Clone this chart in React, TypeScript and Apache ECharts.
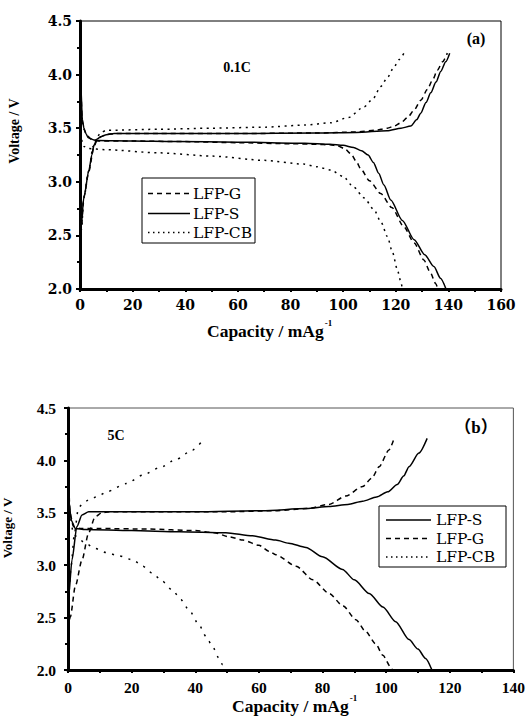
import { useEffect, useRef } from "react";
import * as echarts from "echarts";

// ---------- Panel (a): 0.1C ----------
const capTicksA = { min: 0, max: 160, interval: 20 };
const voltTicks = { min: 2.0, max: 4.5, interval: 0.5 };

const gChargeA = [[0,2.35],[0.4,2.55],[1.5,2.86],[3.4,3.1],[5.3,3.33],[6.5,3.39],[8,3.42],[10,3.44],[13,3.45],[30,3.45],[60,3.45],[90,3.455],[105,3.465],[112,3.48],[116.8,3.5],[119.5,3.52],[121.9,3.55],[124.5,3.6],[127,3.67],[129.5,3.76],[132,3.86],[134,3.95],[135.8,4.04],[137.8,4.12],[139.6,4.2]];
const sChargeA = [[0,2.4],[0.3,2.55],[1.5,2.86],[3.4,3.11],[4.5,3.25],[5.3,3.34],[6.5,3.4],[7.9,3.42],[10,3.44],[13,3.45],[30,3.45],[60,3.45],[90,3.455],[105,3.46],[116.7,3.477],[122,3.5],[125.7,3.52],[128,3.58],[129.5,3.64],[131.5,3.74],[133.3,3.83],[135.3,3.93],[137.1,4.03],[139,4.12],[140.5,4.2]];
const cbChargeA = [[0,2.3],[0.5,2.55],[1.5,2.85],[3.3,3.1],[5,3.33],[6.5,3.42],[8,3.46],[10,3.48],[30,3.49],[50,3.5],[70.7,3.51],[85.5,3.53],[95.3,3.55],[102,3.6],[108,3.7],[111.5,3.78],[114.3,3.89],[117,3.98],[119.3,4.07],[121.3,4.14],[123.1,4.2]];

const gDischargeA = [[0,4.0],[0.3,3.85],[0.9,3.56],[1.5,3.49],[2.5,3.44],[4,3.4],[7,3.38],[20,3.38],[40,3.375],[60,3.365],[80,3.355],[90,3.35],[95,3.345],[98,3.335],[100.5,3.31],[103,3.26],[105,3.19],[106.7,3.12],[110,3.01],[114.3,2.89],[118.5,2.76],[123.1,2.58],[127,2.43],[130.7,2.27],[133,2.16],[135.2,2.05],[136,2.0]];
const sDischargeA = [[0,4.05],[0.3,3.9],[0.9,3.58],[1.5,3.5],[2.2,3.45],[3.2,3.41],[5.3,3.39],[7,3.385],[20,3.38],[36,3.375],[60,3.37],[85.5,3.36],[95,3.35],[100,3.34],[104,3.32],[107,3.29],[109.5,3.25],[111.5,3.18],[113.5,3.08],[115.5,2.97],[118.1,2.83],[122.5,2.64],[127,2.46],[131,2.32],[134.5,2.21],[137,2.1],[139.1,2.0]];
const cbDischargeA = [[0,3.45],[0.6,3.39],[1.5,3.33],[3,3.31],[9.5,3.3],[30,3.27],[50,3.24],[70,3.2],[85,3.165],[90,3.14],[95.3,3.11],[100,3.05],[104,2.95],[108,2.85],[111.7,2.74],[114.5,2.62],[116.8,2.49],[118.8,2.34],[120.6,2.18],[121.8,2.08],[122.5,2.0]];

// ---------- Panel (b): 5C ----------
const capTicksB = { min: 0, max: 140, interval: 20 };

const sChargeB = [[0,2.55],[0.2,2.7],[1.25,3.05],[2.8,3.37],[4.4,3.48],[6.5,3.51],[20,3.51],[40,3.51],[61,3.52],[75,3.54],[82,3.56],[88,3.58],[92.6,3.61],[97,3.65],[100.5,3.7],[103.5,3.77],[105.5,3.85],[107.2,3.94],[110.3,4.07],[112.9,4.21]];
const gChargeB = [[0,2.4],[0.7,2.5],[2.3,2.8],[4.4,3.05],[6.5,3.31],[8.5,3.46],[10.6,3.5],[13,3.51],[30,3.51],[50,3.51],[65,3.52],[75,3.54],[82.1,3.58],[87.3,3.66],[92.6,3.75],[95.5,3.83],[97.8,3.94],[100.9,4.1],[102.5,4.21]];
const cbChargeB = [[0,2.6],[0.3,2.75],[1,3.0],[2,3.3],[3.3,3.55],[5,3.6],[6.9,3.63],[9.6,3.66],[12.1,3.7],[18.4,3.78],[23.5,3.86],[28.8,3.93],[34,4.01],[39.2,4.1],[41.8,4.17]];

const sDischargeB = [[0,4.1],[0.1,3.91],[0.4,3.59],[1.0,3.43],[2.3,3.35],[5.4,3.34],[20,3.33],[35,3.32],[49.6,3.31],[58,3.28],[65.3,3.24],[69.4,3.21],[74.8,3.17],[80,3.08],[86.3,2.96],[90,2.86],[94.7,2.73],[99,2.6],[103,2.46],[107.2,2.29],[110,2.2],[112.4,2.11],[114.4,2.0]];
const gDischargeB = [[0,4.0],[0.2,3.8],[0.6,3.5],[1.7,3.37],[4,3.35],[10,3.35],[25,3.345],[40,3.33],[46,3.31],[50.7,3.27],[55,3.24],[60,3.19],[63.4,3.13],[65.3,3.1],[71.7,2.99],[77,2.86],[82.1,2.73],[86.5,2.61],[90.5,2.48],[93.5,2.37],[96.7,2.25],[99,2.14],[101.4,2.03],[102,2.0]];
const cbDischargeB = [[0,3.6],[0.5,3.5],[1.7,3.3],[2.8,3.27],[5.4,3.21],[8.5,3.16],[12,3.12],[16,3.09],[20.4,3.05],[23.5,2.99],[26.7,2.92],[29.5,2.85],[32.9,2.76],[35.5,2.67],[38.1,2.57],[41,2.44],[43.4,2.32],[45.5,2.22],[47.5,2.11],[48.6,2.05],[49.5,2.0]];

const legendA = ["LFP-G", "LFP-S", "LFP-CB"];
const legendB = ["LFP-S", "LFP-G", "LFP-CB"];
const xTitle = "Capacity / mAg";
const xTitleSup = "-1";
const yTitle = "Voltage / V";

const SERIF = "'Liberation Serif', 'Times New Roman', serif";
const WIDE_SERIF = "'DejaVu Serif', serif";
const DASH = [5, 4];
const DOT_A = [2, 4.5];
const DOT_B = [2, 6.5];

function textWidth(text: string, font: string) {
  try {
    const ctx = document.createElement("canvas").getContext("2d")!;
    ctx.font = font;
    return ctx.measureText(text).width;
  } catch (e) {
    return text.length * 8;
  }
}

function makeX(gridIndex: number, t: { min: number; max: number; interval: number }, font: string, size: number) {
  return {
    type: "value", gridIndex, min: t.min, max: t.max, interval: t.interval,
    axisLine: { show: true, onZero: false, lineStyle: { color: "#000", width: 3 } },
    axisTick: { show: true, inside: false, length: 3, lineStyle: { color: "#000", width: 2 } },
    minorTick: { show: true, splitNumber: 2, length: 3, lineStyle: { color: "#000", width: 2 } },
    splitLine: { show: false },
    axisLabel: { color: "#000", fontFamily: font, fontWeight: "bold", fontSize: size, margin: 9 },
  };
}
function makeY(gridIndex: number, font: string, size: number, margin: number) {
  return {
    type: "value", gridIndex, min: voltTicks.min, max: voltTicks.max, interval: voltTicks.interval,
    axisLine: { show: true, onZero: false, lineStyle: { color: "#000", width: 3 } },
    axisTick: { show: true, inside: false, length: 4, lineStyle: { color: "#000", width: 2 } },
    minorTick: { show: true, splitNumber: 2, length: 3, lineStyle: { color: "#000", width: 2 } },
    splitLine: { show: false },
    axisLabel: { color: "#000", fontFamily: font, fontWeight: "bold", fontSize: size, margin, formatter: (v: number) => v.toFixed(1) },
  };
}

function line(name: string, data: number[][], idx: number, type: any) {
  return {
    name, type: "line", xAxisIndex: idx, yAxisIndex: idx, data,
    showSymbol: false, symbol: "none", smooth: 0.25, smoothMonotone: "x",
    lineStyle: { color: "#000", width: 1.5, type },
  };
}

function legendBox(x: number, y: number, w: number, h: number, rows: number[], names: string[], styles: any[], lx1: number, lx2: number, tx: number) {
  const els: any[] = [
    { type: "rect", shape: { x, y, width: w, height: h }, style: { fill: "#fff", stroke: "#000", lineWidth: 1 }, z: 10 },
  ];
  names.forEach((n, i) => {
    els.push({ type: "line", shape: { x1: lx1, y1: rows[i], x2: lx2, y2: rows[i] }, style: { stroke: "#000", lineWidth: 1.5, lineDash: styles[i] }, z: 11 });
    els.push({ type: "text", x: tx, y: rows[i], style: { text: n, fill: "#000", font: `15.5px ${WIDE_SERIF}`, textAlign: "left", textVerticalAlign: "middle" }, z: 11 });
  });
  return els;
}

function xTitleEls(x: number, y: number) {
  const font = `bold 17.5px ${SERIF}`;
  const w = textWidth(xTitle, font);
  return [
    { type: "text", x, y, style: { text: xTitle, fill: "#000", font, textAlign: "left", textVerticalAlign: "middle" } },
    { type: "text", x: x + w + 1, y: y - 8, style: { text: xTitleSup, fill: "#000", font: `bold 9px ${SERIF}`, textAlign: "left", textVerticalAlign: "middle" } },
  ];
}

function buildOption() {
  return {
    animation: false,
    backgroundColor: "#fff",
    grid: [
      { left: 80, top: 21, width: 421, height: 268, show: true, borderColor: "#000", borderWidth: 1, backgroundColor: "transparent" },
      { left: 68, top: 408, width: 448, height: 262, show: true, borderColor: "#555", borderWidth: 1, backgroundColor: "transparent" },
    ],
    xAxis: [makeX(0, capTicksA, WIDE_SERIF, 14), makeX(1, capTicksB, SERIF, 15.5)],
    yAxis: [makeY(0, WIDE_SERIF, 14, 8), makeY(1, SERIF, 15.5, 12)],
    series: [
      line("LFP-G", gChargeA, 0, DASH),
      line("LFP-S", sChargeA, 0, "solid"),
      line("LFP-CB", cbChargeA, 0, DOT_A),
      line("LFP-G", gDischargeA, 0, DASH),
      line("LFP-S", sDischargeA, 0, "solid"),
      line("LFP-CB", cbDischargeA, 0, DOT_A),
      line("LFP-S", sChargeB, 1, "solid"),
      line("LFP-G", gChargeB, 1, DASH),
      line("LFP-CB", cbChargeB, 1, DOT_B),
      line("LFP-S", sDischargeB, 1, "solid"),
      line("LFP-G", gDischargeB, 1, DASH),
      line("LFP-CB", cbDischargeB, 1, DOT_B),
    ],
    graphic: [
      // panel (a) annotations
      { type: "text", x: 237, y: 67, style: { text: "0.1C", fill: "#000", font: `bold 14px ${SERIF}`, textAlign: "center", textVerticalAlign: "middle" } },
      { type: "text", x: 476, y: 38, style: { text: "(a)", fill: "#000", font: `bold 16px ${SERIF}`, textAlign: "center", textVerticalAlign: "middle" } },
      { type: "text", x: 14, y: 131, rotation: Math.PI / 2, style: { text: yTitle, fill: "#000", font: `bold 14px ${SERIF}`, textAlign: "center", textVerticalAlign: "middle" } },
      ...xTitleEls(207, 331),
      ...legendBox(142, 178, 113, 65, [193.5, 213.5, 232.5], legendA, [DASH, null, [1.5, 3.5]], 148, 190, 193),
      // panel (b) annotations
      { type: "text", x: 116, y: 435, style: { text: "5C", fill: "#000", font: `bold 14px ${SERIF}`, textAlign: "center", textVerticalAlign: "middle" } },
      { type: "text", x: 476, y: 427, style: { text: "（b）", fill: "#000", font: `bold 17px 'Liberation Serif', 'Noto Sans CJK SC', serif`, textAlign: "center", textVerticalAlign: "middle" } },
      { type: "text", x: 7, y: 528, rotation: Math.PI / 2, style: { text: yTitle, fill: "#000", font: `bold 13px ${SERIF}`, textAlign: "center", textVerticalAlign: "middle" } },
      ...xTitleEls(232, 706),
      ...legendBox(379, 506, 127, 61, [520, 538.5, 557], legendB, [null, DASH, [1.5, 3.5]], 386, 431, 436),
    ],
  };
}

export default function App() {
  const ref = useRef<HTMLDivElement>(null);
  useEffect(() => {
    const chart = echarts.init(ref.current!, null, { renderer: "svg" });
    chart.setOption(buildOption() as any);
    return () => chart.dispose();
  }, []);
  return <div ref={ref} style={{ position: "absolute", left: 0, top: 0, width: 528, height: 717 }} />;
}
